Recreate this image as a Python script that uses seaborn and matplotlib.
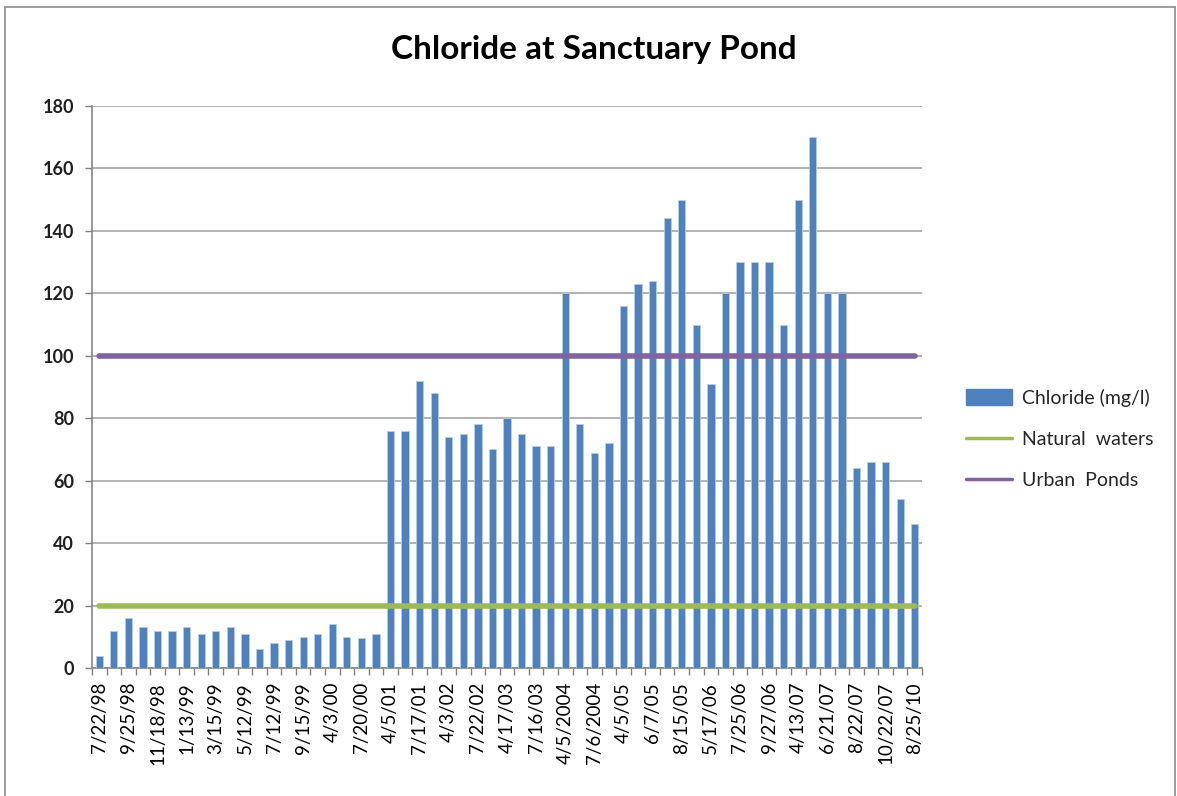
import matplotlib
matplotlib.use("Agg")
import matplotlib.pyplot as plt
from matplotlib.lines import Line2D
from matplotlib.patches import Patch
import seaborn as sns
import pandas as pd
import numpy as np

# Chloride samples (mg/l), one per sampling date
chloride = [4, 12, 16, 13, 12, 12, 13, 11, 12, 13,
            11, 6, 8, 9, 10, 11, 14, 10, 9.5, 11,
            76, 76, 92, 88, 74, 75, 78, 70, 80, 75,
            71, 71, 120, 78, 69, 72, 116, 123, 124, 144,
            150, 110, 91, 120, 130, 130, 130, 110, 150, 170,
            120, 120, 64, 66, 66, 54, 46]

# Dates shown on the axis (every second sample)
date_labels = ["7/22/98", "9/25/98", "11/18/98", "1/13/99", "3/15/99", "5/12/99",
               "7/12/99", "9/15/99", "4/3/00", "7/20/00", "4/5/01", "7/17/01",
               "4/3/02", "7/22/02", "4/17/03", "7/16/03", "4/5/2004", "7/6/2004",
               "4/5/05", "6/7/05", "8/15/05", "5/17/06", "7/25/06", "9/27/06",
               "4/13/07", "6/21/07", "8/22/07", "10/22/07", "8/25/10"]

# Reference levels (mg/l)
natural_waters = 20
urban_ponds = 100

series_names = ["Chloride (mg/l)", "Natural  waters", "Urban  Ponds"]
colors = ["#4F81BD", "#9BBB59", "#8064A2"]

sns.set_theme(style="white")
plt.rcParams["font.family"] = ["Lato", "DejaVu Sans"]

fig = plt.figure(figsize=(11.77, 7.96), dpi=100)
ax = fig.add_axes([92 / 1177, 1 - 668 / 796, 830 / 1177, 562 / 796])

n = len(chloride)
df = pd.DataFrame({"sample": np.arange(n), "chloride": chloride})

sns.barplot(data=df, x="sample", y="chloride", color=colors[0], saturation=1,
            width=0.5, edgecolor="#B9CDE5", linewidth=0.6, ax=ax, zorder=3)

pos = np.arange(n)
sns.lineplot(x=pos, y=[natural_waters] * n, color=colors[1], linewidth=4,
             ax=ax, zorder=4, solid_capstyle="round")
sns.lineplot(x=pos, y=[urban_ponds] * n, color=colors[2], linewidth=4,
             ax=ax, zorder=4, solid_capstyle="round")

ax.set_xlim(-0.5, n - 0.5)
ax.set_ylim(0, 180)
ax.set_yticks(np.arange(0, 181, 20))
ax.yaxis.grid(True, color="#A6A6A6", linewidth=1.2, zorder=0)
ax.xaxis.grid(False)

ax.set_xticks(np.arange(0, n, 2))
ax.set_xticklabels(date_labels, rotation=90, fontsize=13.5, color="black")
ax.set_xticks(np.arange(-0.5, n, 1), minor=True)
ax.tick_params(axis="x", which="major", length=0, pad=10)
ax.tick_params(axis="x", which="minor", length=5, width=1, color="#808080",
               bottom=True, direction="out")
ax.tick_params(axis="y", length=5, width=1, color="#808080", left=True,
               direction="out", labelsize=13, pad=8)
for lab in ax.get_yticklabels():
    lab.set_fontweight("bold")
    lab.set_color("#202020")

for side in ["top", "right"]:
    ax.spines[side].set_visible(False)
for side in ["left", "bottom"]:
    ax.spines[side].set_color("#868686")
    ax.spines[side].set_linewidth(1.2)

ax.set_xlabel("")
ax.set_ylabel("")

fig.text(594 / 1177, 1 - 50 / 796, "Chloride at Sanctuary Pond", ha="center",
         va="center", fontsize=24, fontweight="bold", color="black")

handles = [Patch(facecolor=colors[0], edgecolor=colors[0]),
           Line2D([0], [0], color=colors[1], linewidth=2.5),
           Line2D([0], [0], color=colors[2], linewidth=2.5)]
fig.legend(handles, series_names, loc="center left",
           bbox_to_anchor=(948 / 1177, 1 - 439 / 796), frameon=False,
           fontsize=14, handlelength=2.4, handleheight=0.9,
           labelspacing=1.2, handletextpad=0.5)

# Outer chart frame
frame_kw = dict(color="#8C8C8C", linewidth=1.2, transform=fig.transFigure)
fig.add_artist(Line2D([5 / 1177, 5 / 1177], [0, 1 - 7 / 796], **frame_kw))
fig.add_artist(Line2D([5 / 1177, 1175 / 1177], [1 - 7 / 796, 1 - 7 / 796], **frame_kw))
fig.add_artist(Line2D([1175 / 1177, 1175 / 1177], [0, 1 - 7 / 796], **frame_kw))

fig.savefig("out.png", dpi=100, facecolor="white")
